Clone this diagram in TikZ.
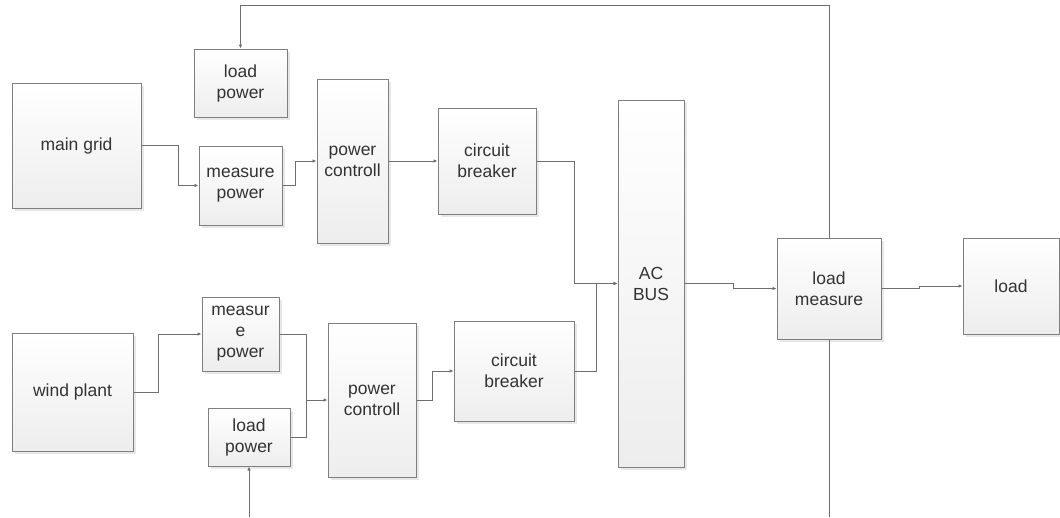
\documentclass[tikz,border=0pt]{standalone}
\usepackage{fontspec}
\setmainfont{Liberation Sans}
\usetikzlibrary{arrows.meta,shadows}
\definecolor{boxline}{HTML}{7F7F7F}
\definecolor{wireline}{HTML}{6E6E6E}
\definecolor{txt}{HTML}{333333}
\tikzset{
	blk/.style = {draw = boxline, line width = 1pt, top color = white, bottom color = gray!14,
		drop shadow = {shadow xshift = 3pt, shadow yshift = -3pt, fill = gray!18, opacity = 1},
		inner sep = 0pt, align = center, text = txt, font = \fontsize{17.5}{21}\selectfont},
	conn/.style = {draw = wireline, line width = 1pt},
	arr/.style = {conn, -{Latex[length = 4pt, width = 3.5pt]}}
}
\begin{document}
\begin{tikzpicture} [x = 1pt, y = -1pt]
	\useasboundingbox [fill = white] (0,0) rectangle (1060,517);
	% upper branch
	\node [blk, minimum width = 93, minimum height = 68] (lp1) at (240.5,83) {load\\power};
	\node [blk, minimum width = 129, minimum height = 125] (mg) at (76.5,145.5) {main grid};
	\node [blk, minimum width = 83, minimum height = 79] (mp1) at (240.5,185.5) {measure\\power};
	\node [blk, minimum width = 71, minimum height = 164] (pc1) at (352.5,161) {power\\controll};
	\node [blk, minimum width = 98, minimum height = 106] (cb1) at (487,161) {circuit\\breaker};
	% bus and load
	\node [blk, minimum width = 66, minimum height = 367] (bus) at (651,283.5) {AC\\BUS};
	\node [blk, minimum width = 104, minimum height = 101] (lm) at (829,288.5) {load\\measure};
	\node [blk, minimum width = 96, minimum height = 96] (ld) at (1011,286) {load};
	% lower branch
	\node [blk, minimum width = 121, minimum height = 118] (wp) at (72.5,392) {wind plant};
	\node [blk, minimum width = 77, minimum height = 74] (mp2) at (240.5,334) {measur\\e\\power};
	\node [blk, minimum width = 82, minimum height = 58] (lp2) at (249,437) {load\\power};
	\node [blk, minimum width = 88, minimum height = 154] (pc2) at (372,400) {power\\controll};
	\node [blk, minimum width = 120, minimum height = 100] (cb2) at (514,371) {circuit\\breaker};
	\coordinate (j2) at (306,400);
	\coordinate (lmout) at (829,517);
	\coordinate (lpin) at (249,517);
	% wires
	\draw [arr] (mg.east) -- ++(37,0) |- (mp1.west);
	\draw [arr] (mp1.east) -- ++(13,0) |- (pc1.west);
	\draw [arr] (pc1.east) -- (cb1.west);
	\draw [arr] (cb1.east) -- ++(38,0) |- (bus.west);
	\draw [arr] (wp.east) -- ++(25,0) |- (mp2.west);
	\draw [conn] (mp2.east) -| (j2);
	\draw [conn] (lp2.east) -| (j2);
	\draw [arr] (j2) -- (pc2.west);
	\draw [arr] (pc2.east) -- ++(16,0) |- (cb2.west);
	\draw [arr] (cb2.east) -- ++(22,0) |- (bus.west);
	\draw [arr] (bus.east) -- ++(49,0) |- (lm.west);
	\draw [arr] (lm.east) -- ++(38,0) |- (ld.west);
	\draw [arr] (lm.north) -- ++(0,-232) -| (lp1.north);
	\draw [conn] (lm.south) -- (lmout);
	\draw [arr] (lpin) -- (lp2.south);
\end{tikzpicture}
\end{document}
